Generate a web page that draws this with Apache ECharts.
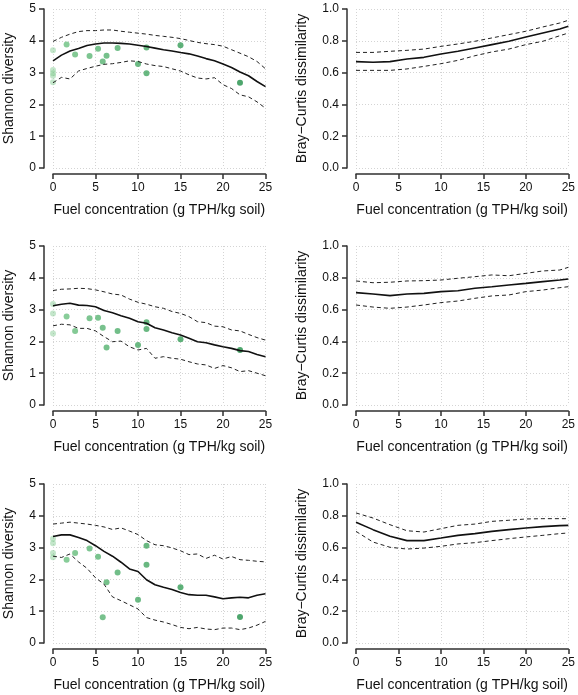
<!DOCTYPE html>
<html><head><meta charset="utf-8">
<script src="https://cdn.jsdelivr.net/npm/echarts@6/dist/echarts.min.js"></script>
<style>html,body{margin:0;padding:0;background:#fff}#c{width:578px;height:695px}</style>
</head><body><div id="c"></div>
<script>
// ---------- data ----------
const xTicks = [0, 5, 10, 15, 20, 25];
const shTicks = [0, 1, 2, 3, 4, 5];
const bcTicks = [0, 0.2, 0.4, 0.6, 0.8, 1.0];

const fuelGrid = [0,1,2,3,4,5,6,7,8,9,10,11,12,13,14,15,16,17,18,19,20,21,22,23,24,25];
const fuelGridBC = [0,2,4,6,8,10,12,14,16,18,20,22,24,25];

// Shannon diversity, panel rows 1-3 (fit, lower, upper)
const shFit1 = [3.37,3.55,3.68,3.76,3.85,3.90,3.93,3.93,3.92,3.90,3.86,3.82,3.77,3.72,3.68,3.63,3.59,3.52,3.44,3.37,3.27,3.16,3.02,2.90,2.72,2.56];
const shHi1  = [3.98,4.11,4.21,4.29,4.32,4.32,4.34,4.34,4.30,4.27,4.24,4.21,4.17,4.14,4.11,4.07,4.01,3.95,3.91,3.88,3.83,3.72,3.61,3.50,3.35,3.12];
const shLo1  = [2.68,2.85,2.80,3.05,3.13,3.20,3.26,3.28,3.32,3.37,3.35,3.27,3.22,3.19,3.12,3.05,2.93,2.83,2.80,2.84,2.62,2.50,2.30,2.24,2.08,1.88];

const shFit2 = [3.12,3.17,3.20,3.14,3.13,3.09,2.97,2.90,2.81,2.73,2.62,2.57,2.43,2.36,2.27,2.20,2.10,1.99,1.96,1.89,1.83,1.78,1.71,1.68,1.59,1.52];
const shHi2  = [3.60,3.64,3.65,3.67,3.66,3.62,3.56,3.49,3.46,3.33,3.23,3.17,3.09,3.04,2.94,2.88,2.78,2.62,2.59,2.48,2.46,2.36,2.33,2.22,2.12,2.04];
const shLo2  = [2.49,2.54,2.52,2.41,2.41,2.33,2.15,1.99,2.01,1.83,1.73,1.78,1.47,1.52,1.47,1.44,1.36,1.29,1.26,1.15,1.24,1.17,1.05,1.08,1.00,0.92];

const shFit3 = [3.35,3.40,3.40,3.32,3.22,3.06,2.88,2.73,2.54,2.33,2.25,1.99,1.83,1.75,1.68,1.59,1.52,1.50,1.50,1.45,1.39,1.42,1.44,1.42,1.50,1.55];
const shHi3  = [3.74,3.77,3.80,3.77,3.74,3.70,3.65,3.57,3.62,3.52,3.41,3.22,3.09,3.06,2.99,2.90,2.78,2.80,2.66,2.76,2.64,2.72,2.62,2.60,2.57,2.55];
const shLo3  = [2.73,2.69,2.80,2.55,2.35,2.05,1.85,1.45,1.33,1.20,1.07,0.80,0.72,0.66,0.58,0.49,0.45,0.49,0.44,0.42,0.47,0.47,0.42,0.47,0.56,0.68];

// observed Shannon diversity per sample
const obsX1 = [0,0,0,0,0,1.6,2.6,4.3,5.3,5.85,6.3,7.6,10,11,11,15,22];
const obsY1 = [3.70,3.08,2.98,2.90,2.70,3.88,3.57,3.52,3.75,3.35,3.53,3.77,3.27,3.79,2.98,3.86,2.68];
const obsX2 = [0,0,0,1.6,2.6,4.3,5.3,5.85,6.3,7.6,10,11,11,15,22];
const obsY2 = [3.18,2.88,2.25,2.78,2.33,2.73,2.74,2.43,1.81,2.33,1.89,2.60,2.39,2.07,1.73];
const obsX3 = [0,0,0,0,1.6,2.6,4.3,5.3,5.85,6.3,7.6,10,11,11,15,22];
const obsY3 = [3.28,3.14,2.83,2.70,2.62,2.83,2.97,2.71,0.81,1.91,2.22,1.36,3.06,2.46,1.75,0.82];

// Bray-Curtis dissimilarity (fit, lower, upper)
const bcFit1 = [0.669,0.665,0.669,0.686,0.696,0.717,0.734,0.755,0.776,0.797,0.824,0.849,0.874,0.891];
const bcHi1  = [0.727,0.727,0.734,0.740,0.748,0.765,0.780,0.797,0.818,0.839,0.860,0.887,0.912,0.929];
const bcLo1  = [0.614,0.614,0.614,0.623,0.639,0.656,0.677,0.706,0.730,0.748,0.776,0.797,0.832,0.849];

const bcFit2 = [0.707,0.698,0.688,0.698,0.702,0.713,0.719,0.734,0.744,0.755,0.765,0.776,0.786,0.792];
const bcHi2  = [0.780,0.769,0.772,0.780,0.782,0.786,0.797,0.807,0.818,0.813,0.828,0.843,0.849,0.866];
const bcLo2  = [0.629,0.616,0.608,0.616,0.629,0.644,0.654,0.671,0.686,0.692,0.713,0.723,0.738,0.744];

const bcFit3 = [0.759,0.713,0.671,0.644,0.644,0.660,0.677,0.688,0.702,0.713,0.723,0.732,0.738,0.740];
const bcHi3  = [0.818,0.786,0.744,0.706,0.698,0.719,0.740,0.748,0.765,0.772,0.780,0.782,0.782,0.782];
const bcLo3  = [0.702,0.635,0.602,0.591,0.597,0.608,0.623,0.631,0.644,0.656,0.667,0.677,0.688,0.692];

const xTitle = 'Fuel concentration (g TPH/kg soil)';
const shTitle = 'Shannon diversity';
const bcTitle = 'Bray\u2212Curtis dissimilarity';

// ---------- layout ----------
const panels = [
  {kind:'sh', col:0, row:0, xs:fuelGrid,   fit:shFit1, lo:shLo1, hi:shHi1, ox:obsX1, oy:obsY1},
  {kind:'bc', col:1, row:0, xs:fuelGridBC, fit:bcFit1, lo:bcLo1, hi:bcHi1},
  {kind:'sh', col:0, row:1, xs:fuelGrid,   fit:shFit2, lo:shLo2, hi:shHi2, ox:obsX2, oy:obsY2},
  {kind:'bc', col:1, row:1, xs:fuelGridBC, fit:bcFit2, lo:bcLo2, hi:bcHi2},
  {kind:'sh', col:0, row:2, xs:fuelGrid,   fit:shFit3, lo:shLo3, hi:shHi3, ox:obsX3, oy:obsY3},
  {kind:'bc', col:1, row:2, xs:fuelGridBC, fit:bcFit3, lo:bcLo3, hi:bcHi3}
];
const colLeft = [53, 356];
const rowTop = [9, 246, 484];
const W = 212.5, H = 159;
const FONT = 'Liberation Sans, Arial, Helvetica, sans-serif';
const INK = '#303030';

function mix(a, b, t) {
  const pa = [parseInt(a.slice(1,3),16), parseInt(a.slice(3,5),16), parseInt(a.slice(5,7),16)];
  const pb = [parseInt(b.slice(1,3),16), parseInt(b.slice(3,5),16), parseInt(b.slice(5,7),16)];
  return 'rgb(' + pa.map((v,i)=>Math.round(v + (pb[i]-v)*t)).join(',') + ')';
}
function ptColor(x) {
  if (x === 0) return 'rgba(130,202,145,0.6)';
  const t = Math.min(1, Math.pow(x / 22, 0.7));
  return mix('#78c98a', '#229048', t);
}

const grids = [], xAxes = [], yAxes = [], series = [];
panels.forEach((p, i) => {
  const L = colLeft[p.col], T = rowTop[p.row];
  const ymax = p.kind === 'sh' ? 5 : 1;
  grids.push({left: L, top: T, width: W, height: H});
  const grid = {color: '#d4d4d4', type: [1, 2], width: 1};
  xAxes.push({
    gridIndex: i, type: 'value', min: xTicks[0], max: xTicks[xTicks.length-1], interval: 5,
    position: 'bottom', offset: 6,
    axisLine: {show: true, onZero: false, lineStyle: {color: INK, width: 1.5}},
    axisTick: {show: true, length: 5, lineStyle: {color: INK, width: 1.5}},
    axisLabel: {fontSize: 12, color: '#111', fontFamily: FONT, margin: 8},
    splitLine: {show: true, lineStyle: grid},
    name: xTitle, nameLocation: 'middle', nameGap: 29,
    nameTextStyle: {fontSize: 14, color: '#111', fontFamily: FONT}
  });
  yAxes.push({
    gridIndex: i, type: 'value', min: 0, max: ymax, interval: ymax / 5,
    position: 'left', offset: 9,
    axisLine: {show: true, onZero: false, lineStyle: {color: INK, width: 1.5}},
    axisTick: {show: true, length: 5, lineStyle: {color: INK, width: 1.5}},
    axisLabel: {fontSize: 12, color: '#111', fontFamily: FONT, margin: 8,
      formatter: v => p.kind === 'sh' ? String(v) : v.toFixed(1)},
    splitLine: {show: true, lineStyle: grid},
    name: p.kind === 'sh' ? shTitle : bcTitle, nameLocation: 'middle',
    nameGap: p.kind === 'sh' ? 28 : 38,
    nameTextStyle: {fontSize: 14, color: '#111', fontFamily: FONT}
  });

  const mk = arr => p.xs.map((x, k) => [x, arr[k]]);
  series.push({type: 'line', xAxisIndex: i, yAxisIndex: i, data: mk(p.hi), showSymbol: false, silent: true, z: 3, clip: false,
    lineStyle: {color: '#222', width: 1, type: [4, 3]}});
  series.push({type: 'line', xAxisIndex: i, yAxisIndex: i, data: mk(p.lo), showSymbol: false, silent: true, z: 3, clip: false,
    lineStyle: {color: '#222', width: 1, type: [4, 3]}});
  if (p.ox) {
    series.push({type: 'scatter', xAxisIndex: i, yAxisIndex: i, silent: true, z: 2, clip: false,
      data: p.ox.map((x, k) => [x, p.oy[k]]), symbolSize: 6,
      itemStyle: {color: params => ptColor(params.value[0])}});
  }
  series.push({type: 'line', xAxisIndex: i, yAxisIndex: i, data: mk(p.fit), showSymbol: false, silent: true, z: 4, clip: false,
    lineStyle: {color: '#111', width: 1.6}});
});

const chart = echarts.init(document.getElementById('c'), null, {renderer: 'canvas'});
chart.setOption({
  backgroundColor: '#fff', animation: false,
  grid: grids, xAxis: xAxes, yAxis: yAxes, series: series
});
</script></body></html>
